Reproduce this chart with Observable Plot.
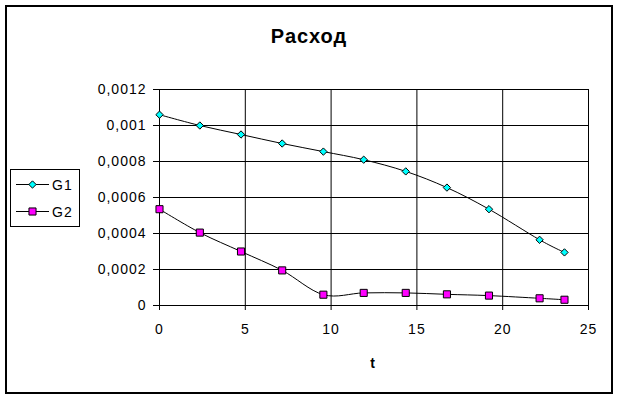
<!DOCTYPE html>
<html>
<head>
<meta charset="utf-8">
<script src="https://cdn.jsdelivr.net/npm/d3@7"></script>
<script src="https://cdn.jsdelivr.net/npm/@observablehq/plot@0.6"></script>
<style>
  html, body { margin: 0; padding: 0; background: #fff; }
  #wrap { position: relative; width: 617px; height: 399px; overflow: hidden; }
  #wrap svg text { letter-spacing: 1px; }
  #frame { position: absolute; left: 5px; top: 5px; width: 604px; height: 385px; border: 2px solid #000; pointer-events: none; }
  #overlay { position: absolute; left: 0; top: 0; }
</style>
</head>
<body>
<div id="wrap">
  <div id="chart"></div>
  <svg id="overlay" width="617" height="399"></svg>
  <div id="frame"></div>
</div>
<script>
// ---- data ----
const title = "Расход";
const xLabel = "t";
const seriesNames = ["G1", "G2"];
const seriesFill = ["#00FFFF", "#FF00FF"];
const seriesSymbol = ["diamond2", "square"];
const t = [0, 2.35, 4.75, 7.15, 9.55, 11.9, 14.35, 16.75, 19.2, 22.15, 23.6];
const G1 = [0.00106, 0.001, 0.00095, 0.0009, 0.000855, 0.00081, 0.000745, 0.000655, 0.000535, 0.000365, 0.000295];
const G2 = [0.000535, 0.000405, 0.0003, 0.000195, 0.00006, 0.00007, 0.00007, 0.000062, 0.000055, 0.00004, 0.000032];
const xTicks = [0, 5, 10, 15, 20, 25];
const yTicks = [0, 0.0002, 0.0004, 0.0006, 0.0008, 0.001, 0.0012];
const yTickLabels = ["0", "0,0002", "0,0004", "0,0006", "0,0008", "0,001", "0,0012"];

const rows1 = t.map((x, i) => ({t: x, v: G1[i]}));
const rows2 = t.map((x, i) => ({t: x, v: G2[i]}));
const font = "'Liberation Sans', Arial, sans-serif";

const chart = Plot.plot({
  width: 617, height: 399,
  marginLeft: 159, marginRight: 29, marginTop: 89, marginBottom: 94,
  style: {fontFamily: font, fontSize: "14px", background: "transparent", color: "#000"},
  x: {domain: [0, 25]},
  y: {domain: [0, 0.0012]},
  marks: [
    Plot.gridX(xTicks, {stroke: "#000", strokeOpacity: 1, strokeWidth: 1}),
    Plot.gridY(yTicks, {stroke: "#000", strokeOpacity: 1, strokeWidth: 1}),
    Plot.axisX({ticks: xTicks, tickSize: 5, tickPadding: 14, tickFormat: d => String(d), label: null, fill: "#000"}),
    Plot.axisY({ticks: yTicks, tickSize: 6, tickPadding: 7, tickFormat: d => yTickLabels[yTicks.indexOf(d)], label: null, fill: "#000"}),
    Plot.ruleX([0], {stroke: "#000"}),
    Plot.ruleY([0], {stroke: "#000"}),
    Plot.line(rows1, {x: "t", y: "v", curve: "cardinal", stroke: "#000", strokeWidth: 1}),
    Plot.line(rows2, {x: "t", y: "v", curve: "cardinal", stroke: "#000", strokeWidth: 1}),
    Plot.dot(rows1, {x: "t", y: "v", symbol: seriesSymbol[0], r: 3.3, fill: seriesFill[0], stroke: "#000", strokeWidth: 1}),
    Plot.dot(rows2, {x: "t", y: "v", symbol: seriesSymbol[1], r: 4, fill: seriesFill[1], stroke: "#000", strokeWidth: 1})
  ]
});
document.getElementById("chart").appendChild(chart);

// ---- overlay: title, axis title, legend ----
const ov = d3.select("#overlay");
ov.append("text").attr("x", 309).attr("y", 43).attr("text-anchor", "middle")
  .attr("font-family", font).attr("font-size", 20).attr("font-weight", "bold").text(title);
ov.append("text").attr("x", 373).attr("y", 368).attr("text-anchor", "middle")
  .attr("font-family", font).attr("font-size", 14).attr("font-weight", "bold").text(xLabel);

const lg = ov.append("g");
lg.append("rect").attr("x", 10.5).attr("y", 169.5).attr("width", 69).attr("height", 57)
  .attr("fill", "#fff").attr("stroke", "#000").attr("stroke-width", 1);
const symMap = {diamond2: d3.symbolDiamond2, square: d3.symbolSquare};
const rVals = [3.3, 4];
seriesNames.forEach((name, i) => {
  const y = i === 0 ? 184.5 : 211.5;
  lg.append("line").attr("x1", 16).attr("x2", 49).attr("y1", y).attr("y2", y).attr("stroke", "#000");
  lg.append("path").attr("transform", `translate(32.5,${y})`)
    .attr("d", d3.symbol(symMap[seriesSymbol[i]], rVals[i] * rVals[i] * Math.PI)())
    .attr("fill", seriesFill[i]).attr("stroke", "#000");
  lg.append("text").attr("x", 52).attr("y", y + 5).attr("font-family", font).attr("font-size", 14).text(name);
});
</script>
</body>
</html>
